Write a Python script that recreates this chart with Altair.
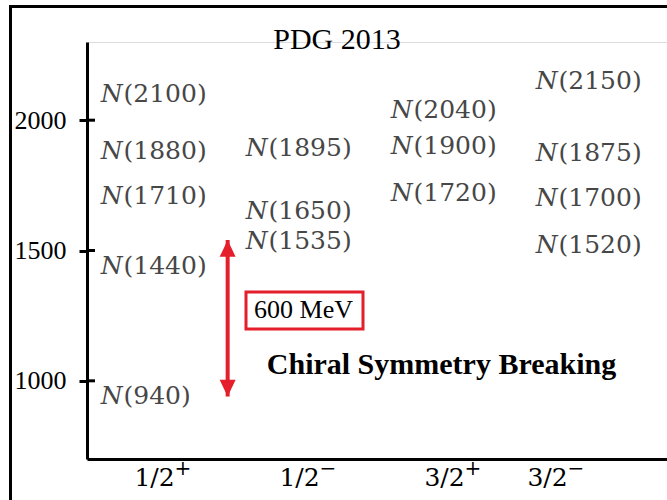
import altair as alt
import pandas as pd

# Spin-parity columns J^P
spin_parity = ["1/2+", "1/2-", "3/2+", "3/2-"]
jp_base = ["1/2", "1/2", "3/2", "3/2"]
jp_sign = ["+", "\u2212", "+", "\u2212"]

# Nucleon resonance masses (MeV) per column
masses_12p = [940, 1440, 1710, 1880, 2100]
masses_12m = [1535, 1650, 1895]
masses_32p = [1720, 1900, 2040]
masses_32m = [1520, 1700, 1875, 2150]

y_tick_values = [1000, 1500, 2000]

# Mass gap between N(940) and its would-be chiral partner
gap_low, gap_high = 940, 1540
gap_text = "600 MeV"
gap_text_mass = 1270
note_text = "Chiral Symmetry Breaking"
note_mass = 1060

RED = "#e41e2b"
GRAY = "#474747"
SERIF = "Liberation Serif"
MATH = "DejaVu Serif"

rows = []
for jp, ms in zip(spin_parity, [masses_12p, masses_12m, masses_32p, masses_32m]):
    for m in ms:
        rows.append({"jp": jp, "mass": m, "num": f"({m})"})
states = pd.DataFrame(rows)

jp_df = pd.DataFrame({"jp": spin_parity, "base": jp_base, "sign": jp_sign})
ticks_df = pd.DataFrame({"v": y_tick_values})
gap_df = pd.DataFrame({"jp": [spin_parity[0]], "lo": [gap_low], "hi": [gap_high]})
gap_label_df = pd.DataFrame({"jp": [spin_parity[1]], "mass": [gap_text_mass], "t": [gap_text]})
note_df = pd.DataFrame({"jp": [spin_parity[2]], "mass": [note_mass], "t": [note_text]})
one = pd.DataFrame({"k": [0]})

x_scale = alt.Scale(type="band", domain=spin_parity, paddingInner=0, paddingOuter=0)
y_scale = alt.Scale(domain=[700, 2300], nice=False, zero=False)

x_axis = alt.Axis(labels=False, ticks=False, title=None, grid=False,
                  domainWidth=3, domainColor="black")
y_axis = alt.Axis(values=y_tick_values, format="d", title=None, grid=False, ticks=True,
                  tickSize=8, tickWidth=3, tickColor="black",
                  domainWidth=3, domainColor="black",
                  labelFont=SERIF, labelFontSize=26, labelColor="black",
                  labelPadding=13)

X = alt.X("jp:N", scale=x_scale, axis=x_axis)
Y = alt.Y("mass:Q", scale=y_scale, axis=y_axis)

# Resonance labels: italic N followed by upright (mass)
n_letter = alt.Chart(states).mark_text(
    font=MATH, fontStyle="italic", fontSize=25, color=GRAY,
    align="right", baseline="middle", dx=-37, text="N"
).encode(x=X, y=Y)

n_mass = alt.Chart(states).mark_text(
    font=MATH, fontSize=25, color=GRAY, align="left", baseline="middle", dx=-36
).encode(x="jp:N", y="mass:Q", text="num:N")

# Inner half of the y-axis ticks (ticks cross the axis line)
inner_ticks = alt.Chart(ticks_df).mark_rule(color="black", strokeWidth=3).encode(
    y=alt.Y("v:Q", scale=y_scale), x=alt.value(0), x2=alt.value(8)
)

# Double-headed arrow marking the gap
arrow_shaft = alt.Chart(gap_df).mark_rule(color=RED, strokeWidth=4).encode(
    x=alt.X("jp:N", bandPosition=0.97),
    y=alt.Y("lo:Q", scale=y_scale), y2="hi:Q"
)
head_up = alt.Chart(gap_df).mark_point(
    shape="M0,0L-1,2.1L1,2.1Z", size=256, filled=True, color=RED, opacity=1
).encode(x=alt.X("jp:N", bandPosition=0.97), y=alt.Y("hi:Q", scale=y_scale))
head_down = alt.Chart(gap_df).mark_point(
    shape="M0,0L-1,-2.1L1,-2.1Z", size=256, filled=True, color=RED, opacity=1
).encode(x=alt.X("jp:N", bandPosition=0.97), y=alt.Y("lo:Q", scale=y_scale))

gap_box = alt.Chart(gap_label_df).mark_point(
    shape="M-1,-0.316L1,-0.316L1,0.316L-1,0.316Z", size=13689,
    filled=False, stroke=RED, strokeWidth=3, opacity=1
).encode(x="jp:N", y=alt.Y("mass:Q", scale=y_scale))
gap_label = alt.Chart(gap_label_df).mark_text(
    font=SERIF, fontSize=26, color="black", align="center", baseline="middle", dx=-1
).encode(x="jp:N", y=alt.Y("mass:Q", scale=y_scale), text="t:N")

note = alt.Chart(note_df).mark_text(
    font=SERIF, fontSize=30, fontWeight="bold", color="black",
    align="center", baseline="middle", dx=-8
).encode(x="jp:N", y=alt.Y("mass:Q", scale=y_scale), text="t:N")

# J^P labels under the x axis
def jp_labels(sel, dx):
    src = alt.Chart(jp_df).transform_filter(sel)
    base = src.mark_text(font=MATH, fontSize=25, color="black",
                         align="center", baseline="middle", dx=dx).encode(
        x="jp:N", y=alt.value(436), text="base:N")
    sign = src.mark_text(font=MATH, fontSize=20, color="black",
                         align="left", baseline="middle", dx=dx + 20).encode(
        x="jp:N", y=alt.value(427), text="sign:N")
    return base + sign

labels_a = jp_labels(alt.datum.jp != spin_parity[3], -5)
labels_b = jp_labels(alt.datum.jp == spin_parity[3], -47)

frame = alt.Chart(one).mark_rect(filled=False, stroke="black", strokeWidth=3).encode(
    x=alt.value(-76.5), x2=alt.value(700), y=alt.value(-35.5), y2=alt.value(600)
)

chart = alt.layer(
    n_letter, n_mass, inner_ticks, arrow_shaft, head_up, head_down,
    gap_box, gap_label, note, labels_a, labels_b, frame
).properties(
    width=580, height=417,
    autosize=alt.AutoSizeParams(type="none"),
    padding={"left": 87, "top": 42, "right": 0, "bottom": 41},
    title=alt.TitleParams("PDG 2013", font=SERIF, fontSize=30, fontWeight="normal",
                          color="black", anchor="middle", frame="group",
                          dx=-40, dy=35, offset=-15),
).configure_view(stroke=None).configure(background="white")

chart.save("out.html", embed_options={"renderer": "svg", "actions": False})
